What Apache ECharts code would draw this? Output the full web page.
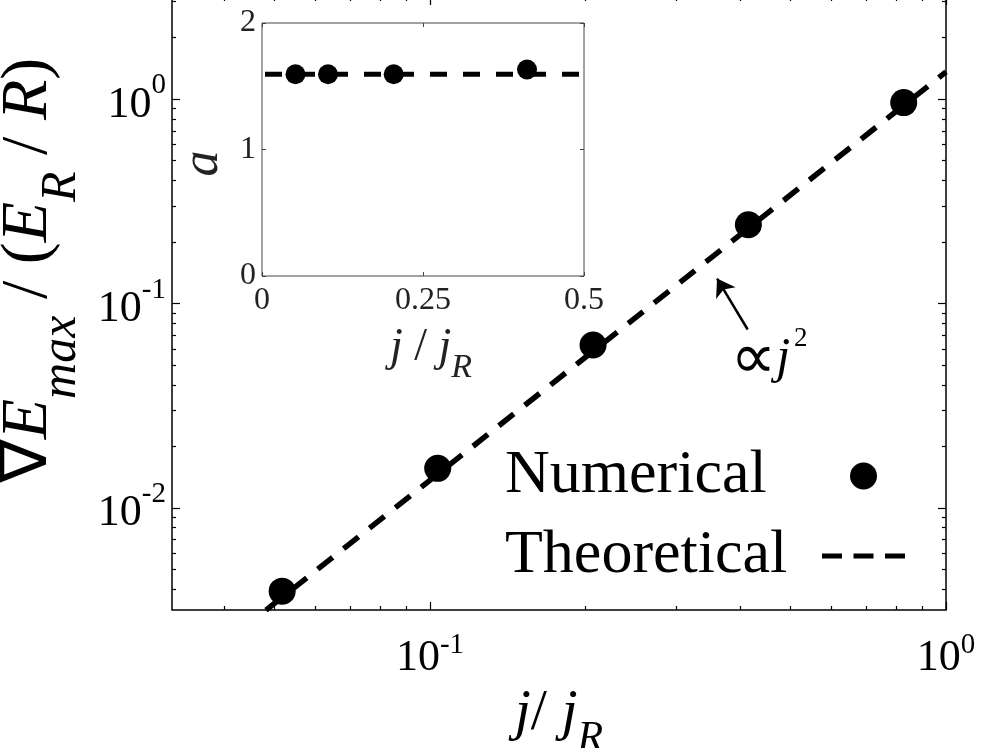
<!DOCTYPE html>
<html><head><meta charset="utf-8">
<script src="https://cdn.jsdelivr.net/npm/echarts@6/dist/echarts.min.js"></script>
<style>html,body{margin:0;padding:0;background:#fff}#c{width:983px;height:748px}</style>
</head><body><div id="c"></div>
<script>
// ---- data ----
const numericalX = [0.0517, 0.1035, 0.207, 0.414, 0.828];
const numericalY = [0.00391, 0.0156, 0.0626, 0.243, 0.962];
const theoreticalX = [0.0481, 1];
const theoreticalY = [0.00316, 1.36];
const insetX = [0.052, 0.1025, 0.2045, 0.4115];
const insetA = [1.595, 1.595, 1.595, 1.632];
const insetTheoX = [0, 0.5];
const insetTheoA = [1.595, 1.595];
const arrowTail = [0.4127, 0.0746];
const arrowHead = [0.360, 0.1325];
const annotationAt = [0.454, 0.0532];
// tick values
const xMajor = [0.1, 1];
const xMinor = [0.04, 0.05, 0.06, 0.07, 0.08, 0.09, 0.2, 0.3, 0.4, 0.5, 0.6, 0.7, 0.8, 0.9];
const yMajor = [0.01, 0.1, 1];
const yMinor = [0.004, 0.005, 0.006, 0.007, 0.008, 0.009, 0.02, 0.03, 0.04, 0.05, 0.06, 0.07, 0.08, 0.09,
                0.2, 0.3, 0.4, 0.5, 0.6, 0.7, 0.8, 0.9, 2, 3];
const X_MIN = 0.0316228, X_MAX = 1;
const Y_MIN = 0.00316228, Y_MAX = 3.16228;

const SERIF = "'Liberation Serif', 'Times New Roman', serif";
const zip = (a, b) => a.map((v, i) => [v, b[i]]);
const powLabel = v => '{b|10}{s|' + Math.round(Math.log10(v)) + '}';

const tickStyle = { color: '#000', width: 1.2 };
function logAxis(extra) {
  return Object.assign({
    type: 'log', logBase: 10, gridIndex: 0,
    axisLine: { show: false, onZero: false },
    splitLine: { show: false }, minorTick: { show: false },
    axisLabel: { show: false }
  }, extra);
}
const xRich = {
  b: { fontSize: 44, fontFamily: SERIF, color: '#000', verticalAlign: 'bottom' },
  s: { fontSize: 29, fontFamily: SERIF, color: '#000', verticalAlign: 'top', padding: [0, 0, 20, 0] }
};
const yRich = {
  b: { fontSize: 44, fontFamily: SERIF, color: '#000', verticalAlign: 'bottom' },
  s: { fontSize: 29, fontFamily: SERIF, color: '#000', verticalAlign: 'top', padding: [0, 0, 27, 0] }
};

const xAxes = [
  logAxis({ min: X_MIN, max: X_MAX, position: 'bottom',
    axisTick: { inside: true, length: 8, lineStyle: tickStyle, customValues: xMajor },
    axisLabel: { show: true, customValues: xMajor, formatter: powLabel, rich: xRich, margin: 21 },
    name: '{i|j}{n|/ }{i|j}{s|R}', nameLocation: 'middle', nameGap: 63,
    nameTextStyle: { fontFamily: SERIF, fontSize: 58, color: '#000', rich: {
      i: { fontSize: 58, fontFamily: SERIF, fontStyle: 'italic', color: '#000', verticalAlign: 'top' },
      n: { fontSize: 58, fontFamily: SERIF, color: '#000', verticalAlign: 'top' },
      s: { fontSize: 42, fontFamily: SERIF, fontStyle: 'italic', color: '#000', verticalAlign: 'top', padding: [33, 0, 0, 0] }
    } }
  }),
  logAxis({ min: X_MIN, max: X_MAX, position: 'bottom',
    axisTick: { inside: true, length: 4, lineStyle: tickStyle, customValues: xMinor } }),
  logAxis({ min: X_MIN, max: X_MAX, position: 'top',
    axisTick: { inside: true, length: 8, lineStyle: tickStyle, customValues: xMajor } }),
  logAxis({ min: X_MIN, max: X_MAX, position: 'top',
    axisTick: { inside: true, length: 4, lineStyle: tickStyle, customValues: xMinor } }),
  { type: 'value', gridIndex: 1, min: 0, max: 0.5, interval: 0.25, position: 'bottom',
    axisLine: { show: false, onZero: false }, splitLine: { show: false },
    axisTick: { inside: true, length: 4, lineStyle: { color: '#444' } },
    axisLabel: { fontSize: 32, fontFamily: SERIF, color: '#222', margin: 9 },
    name: '{i|j}{n| / }{i|j}{s|R}', nameLocation: 'middle', nameGap: 49,
    nameTextStyle: { fontFamily: SERIF, fontSize: 46, color: '#222', padding: [0, 0, 0, 16], rich: {
      i: { fontSize: 46, fontFamily: SERIF, fontStyle: 'italic', color: '#222', verticalAlign: 'top' },
      n: { fontSize: 46, fontFamily: SERIF, color: '#222', verticalAlign: 'top' },
      s: { fontSize: 34, fontFamily: SERIF, fontStyle: 'italic', color: '#222', verticalAlign: 'top', padding: [26, 0, 0, 0] }
    } } },
  { type: 'value', gridIndex: 1, min: 0, max: 0.5, interval: 0.25, position: 'top',
    axisLine: { show: false, onZero: false }, splitLine: { show: false },
    axisTick: { inside: true, length: 4, lineStyle: { color: '#444' } },
    axisLabel: { show: false } }
];

const yAxes = [
  logAxis({ min: Y_MIN, max: Y_MAX, position: 'left',
    axisTick: { inside: true, length: 8, lineStyle: tickStyle, customValues: yMajor },
    axisLabel: { show: true, customValues: yMajor, formatter: powLabel, rich: yRich, margin: 6 },
    name: '{n|∇}{i|E}{s|max}{n| / (}{i|E}{s|R}{n| / }{i|R}{n|)}',
    nameLocation: 'middle', nameRotate: 90, nameGap: 78,
    nameTextStyle: { fontFamily: SERIF, fontSize: 66, color: '#000', padding: [0, 0, 0, 66], rich: {
      n: { fontSize: 66, fontFamily: SERIF, color: '#000', verticalAlign: 'top' },
      i: { fontSize: 66, fontFamily: SERIF, fontStyle: 'italic', color: '#000', verticalAlign: 'top' },
      s: { fontSize: 50, fontFamily: SERIF, fontStyle: 'italic', color: '#000', verticalAlign: 'top', padding: [41, 0, 0, 0] }
    } }
  }),
  logAxis({ min: Y_MIN, max: Y_MAX, position: 'left',
    axisTick: { inside: true, length: 4, lineStyle: tickStyle, customValues: yMinor } }),
  logAxis({ min: Y_MIN, max: Y_MAX, position: 'right',
    axisTick: { inside: true, length: 8, lineStyle: tickStyle, customValues: yMajor } }),
  logAxis({ min: Y_MIN, max: Y_MAX, position: 'right',
    axisTick: { inside: true, length: 4, lineStyle: tickStyle, customValues: yMinor } }),
  { type: 'value', gridIndex: 1, min: 0, max: 2, interval: 1, position: 'left',
    axisLine: { show: false, onZero: false }, splitLine: { show: false },
    axisTick: { inside: true, length: 4, lineStyle: { color: '#444' } },
    axisLabel: { fontSize: 32, fontFamily: SERIF, color: '#222', margin: 6 },
    name: 'a', nameLocation: 'middle', nameRotate: 90, nameGap: 33,
    nameTextStyle: { fontFamily: SERIF, fontSize: 52, fontStyle: 'italic', color: '#222', padding: [0, 28, 0, 0] } },
  { type: 'value', gridIndex: 1, min: 0, max: 2, interval: 1, position: 'right',
    axisLine: { show: false, onZero: false }, splitLine: { show: false },
    axisTick: { inside: true, length: 4, lineStyle: { color: '#444' } },
    axisLabel: { show: false } }
];

const option = {
  animation: false,
  backgroundColor: '#fff',
  grid: [
    { left: 172, right: 37, top: -3, bottom: 138, show: true, borderColor: '#000', borderWidth: 1.5,
      backgroundColor: 'transparent', outerBoundsMode: 'none', containLabel: false },
    { left: 262, top: 23, width: 322, height: 253, show: true, borderColor: '#444', borderWidth: 1,
      backgroundColor: '#fff', outerBoundsMode: 'none', containLabel: false }
  ],
  xAxis: xAxes,
  yAxis: yAxes,
  legend: {
    data: [
      { name: 'Numerical' },
      { name: 'Theoretical', itemStyle: { color: 'rgba(0,0,0,0)', borderWidth: 0, opacity: 0 } }
    ],
    orient: 'vertical', left: 505, top: 445, padding: 0,
    align: 'right', itemWidth: 83, itemHeight: 27, itemGap: 18, selectedMode: false,
    formatter: '{t|{name}}',
    textStyle: { fontFamily: SERIF, fontSize: 62, color: '#000',
      rich: { t: { width: 312, align: 'left', fontSize: 62, fontFamily: SERIF, color: '#000' } } },
    lineStyle: { width: 5, type: [20, 11.5], color: '#000' }
  },
  series: [
    { name: 'Theoretical', type: 'line', xAxisIndex: 0, yAxisIndex: 0,
      data: zip(theoreticalX, theoreticalY), symbol: 'none', silent: true,
      lineStyle: { color: '#000', width: 5.5, type: [19, 14] }, itemStyle: { color: '#000' },
      markLine: { silent: true, symbol: ['none', 'arrow'], symbolSize: 17, animation: false,
        lineStyle: { color: '#000', width: 2.5, type: 'solid' }, label: { show: false },
        data: [[{ coord: arrowTail }, { coord: arrowHead }]] },
      markPoint: { silent: true, symbol: 'circle', symbolSize: 1, itemStyle: { color: 'rgba(0,0,0,0)' },
        label: { show: true, position: 'inside', formatter: '{p|∝}{j|j}{s|2}', rich: {
          p: { fontSize: 64, fontFamily: "'DejaVu Sans', sans-serif", color: '#000', verticalAlign: 'top', padding: [4, 0, 0, 0] },
          j: { fontSize: 50, fontFamily: SERIF, fontStyle: 'italic', color: '#000', verticalAlign: 'top', padding: [8, 0, 0, 0] },
          s: { fontSize: 27, fontFamily: SERIF, color: '#000', verticalAlign: 'top', padding: [0, 0, 0, 4] }
        } },
        data: [{ coord: annotationAt }] }
    },
    { name: 'Numerical', type: 'scatter', xAxisIndex: 0, yAxisIndex: 0,
      data: zip(numericalX, numericalY), symbol: 'circle', symbolSize: 27,
      itemStyle: { color: '#000', opacity: 1 }, z: 3 },
    { name: 'inset theoretical', type: 'line', xAxisIndex: 4, yAxisIndex: 4,
      data: zip(insetTheoX, insetTheoA), symbol: 'none', silent: true,
      lineStyle: { color: '#000', width: 5, type: [17, 16], dashOffset: -3 } },
    { name: 'inset numerical', type: 'scatter', xAxisIndex: 4, yAxisIndex: 4,
      data: zip(insetX, insetA), symbol: 'circle', symbolSize: 20,
      itemStyle: { color: '#000', opacity: 1 }, z: 3 }
  ]
};
const chart = echarts.init(document.getElementById('c'), null, { renderer: 'canvas' });
chart.setOption(option);
</script></body></html>
